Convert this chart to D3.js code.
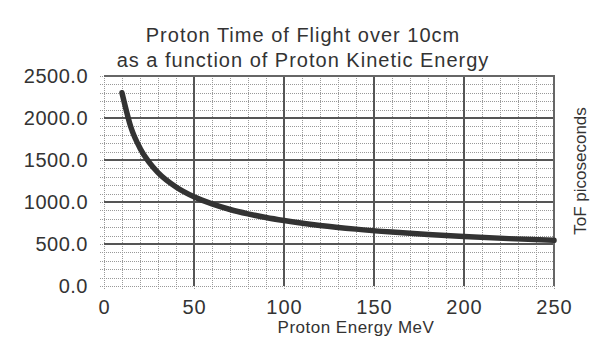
<!DOCTYPE html>
<html>
<head>
<meta charset="utf-8">
<script src="https://cdn.jsdelivr.net/npm/d3@7"></script>
<style>
  body { margin: 0; background: #fff; }
  text { font-family: "Liberation Sans", Arial, sans-serif; fill: #333; }
</style>
</head>
<body>
<div class="chart"></div>
<script>
// energy (MeV) and time of flight (ps)
var energy = [10, 15, 20, 25, 30, 40, 50, 60, 70, 80, 90, 100, 120, 140, 160, 180, 200, 225, 250];
var tof = [2300, 1887, 1641, 1474, 1350, 1179, 1062, 977, 911, 859, 815, 779, 721, 677, 642, 613, 589, 564, 544];

var xTicks = [0, 50, 100, 150, 200, 250];
var yTicks = [0, 500, 1000, 1500, 2000, 2500];
var titleLines = ["Proton Time of Flight over 10cm", "as a function of Proton Kinetic Energy"];

var W = 597, H = 341;
var margin = {top: 76, right: 43, bottom: 55, left: 104},
    width = W - margin.left - margin.right,
    height = H - margin.top - margin.bottom;

var svg = d3.select(".chart")
  .append("svg")
    .attr("width", W)
    .attr("height", H);

var g = svg.append("g")
    .attr("transform", "translate(" + margin.left + "," + margin.top + ")");

var x = d3.scaleLinear().domain([0, 250]).range([0, width]);
var y = d3.scaleLinear().domain([0, 2500]).range([height, 0]);

// minor grid, every 10 MeV and every 100 ps
g.append("g")
  .selectAll("line")
  .data(d3.range(0, 251, 10))
  .enter().append("line")
    .attr("x1", function(d) { return x(d) + 0.5 })
    .attr("x2", function(d) { return x(d) + 0.5 })
    .attr("y1", 0).attr("y2", height + 4)
    .attr("stroke", "#999")
    .attr("stroke-dasharray", "1,1");
g.append("g")
  .selectAll("line")
  .data(d3.range(0, 2501, 100))
  .enter().append("line")
    .attr("y1", function(d) { return Math.round(y(d)) + 0.5 })
    .attr("y2", function(d) { return Math.round(y(d)) + 0.5 })
    .attr("x1", -4).attr("x2", width)
    .attr("stroke", "#999")
    .attr("stroke-dasharray", "1,1");

// major grid
g.append("g")
  .selectAll("line")
  .data(xTicks.filter(function(d) { return d > 0 && d < 250 }))
  .enter().append("line")
    .attr("x1", function(d) { return x(d) }).attr("x2", function(d) { return x(d) })
    .attr("y1", 0).attr("y2", height)
    .attr("stroke", "#555").attr("stroke-width", 2);
g.append("g")
  .selectAll("line")
  .data(yTicks.filter(function(d) { return d > 0 && d < 2500 }))
  .enter().append("line")
    .attr("y1", function(d) { return y(d) }).attr("y2", function(d) { return y(d) })
    .attr("x1", 0).attr("x2", width)
    .attr("stroke", "#555").attr("stroke-width", 2);

// top and right frame
g.append("path")
  .attr("d", "M0," + y(2500) + "H" + x(250) + "V" + y(0))
  .attr("fill", "none")
  .attr("stroke", "#666")
  .attr("stroke-width", 2);

// axes (labels only)
var xAxis = g.append("g")
  .attr("transform", "translate(0," + height + ")")
  .call(d3.axisBottom(x).tickValues(xTicks).tickSize(0).tickPadding(14));
xAxis.select(".domain").remove();
xAxis.selectAll("text").style("font-size", "20px").style("letter-spacing", "1px").attr("fill", "#333");

var yAxis = g.append("g")
  .call(d3.axisLeft(y).tickValues(yTicks).tickFormat(d3.format(".1f")).tickSize(0).tickPadding(16));
yAxis.select(".domain").remove();
yAxis.selectAll("text").style("font-size", "20px").style("letter-spacing", "0.5px").attr("fill", "#333");

// the curve
g.append("path")
  .datum(energy.map(function(e, i) { return [e, tof[i]] }))
  .attr("fill", "none")
  .attr("stroke", "#333")
  .attr("stroke-width", 5.5)
  .attr("stroke-linecap", "round")
  .attr("d", d3.line()
    .x(function(d) { return x(d[0]) })
    .y(function(d) { return y(d[1]) })
    .curve(d3.curveMonotoneX));

// titles
svg.append("g").selectAll("text")
  .data(titleLines)
  .enter().append("text")
    .attr("x", 303)
    .attr("y", function(d, i) { return 42 + i * 25 })
    .attr("text-anchor", "middle")
    .style("font-size", "20px")
    .style("letter-spacing", "1px")
    .text(function(d) { return d });

svg.append("text")
  .attr("x", 356)
  .attr("y", 333)
  .attr("text-anchor", "middle")
  .style("font-size", "17px")
  .style("letter-spacing", "0.5px")
  .text("Proton Energy MeV");

svg.append("text")
  .attr("transform", "translate(586,171) rotate(-90)")
  .attr("text-anchor", "middle")
  .style("font-size", "17px")
  .text("ToF picoseconds");
</script>
</body>
</html>
